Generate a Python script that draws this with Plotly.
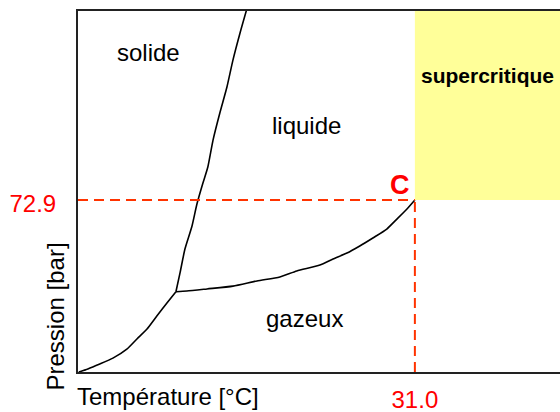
import plotly.graph_objects as go

# Schematic CO2 phase diagram (temperature in °C, pressure schematic scale)
T_TRIPLE, P_TRIPLE = -56.6, 34.0
T_CRIT, P_CRIT = 31.0, 72.9

# sublimation curve (solide / gazeux)
sub_T = [-92.2, -88.9, -84.5, -79.7, -74.6, -70.9, -67.2, -63.6, -59.9, -56.6]
sub_P = [0.0, 1.3, 3.4, 5.9, 9.7, 14.0, 18.2, 23.7, 29.2, 34.0]

# melting curve (solide / liquide)
melt_T = [-56.6, -55.1, -53.3, -50.7, -48.9, -46.7, -44.9, -43.0, -40.5, -37.9, -35.7, -33.1, -30.6]
melt_P = [34.0, 42.0, 52.1, 61.9, 71.2, 80.1, 86.9, 98.3, 109.8, 120.8, 132.2, 143.7, 153.9]

# vaporisation curve (liquide / gazeux)
vap_T = [-56.6, -52.6, -45.2, -35.7, -26.9, -18.5, -12.3, -3.8, 1.0, 6.1, 10.8, 15.6, 20.7, 24.4, 28.1, 31.0]
vap_P = [34.0, 34.3, 35.2, 36.4, 38.6, 40.3, 42.8, 45.3, 47.9, 50.4, 53.4, 56.8, 60.6, 64.8, 69.1, 72.9]

X_RANGE = [-92.5, 84.2]
Y_RANGE = [0, 153.0]

region_labels = ["solide", "liquide", "gazeux"]
region_T = [-66.5, -8.9, -9.3]
region_P = [135.6, 104.5, 22.5]

FONT = "Liberation Sans, Arial, sans-serif"

fig = go.Figure()

line_style = dict(color="black", width=1.6, shape="spline", smoothing=0.6)
fig.add_trace(go.Scatter(x=sub_T, y=sub_P, mode="lines", line=line_style, hoverinfo="skip"))
fig.add_trace(go.Scatter(x=melt_T, y=melt_P, mode="lines", line=line_style, hoverinfo="skip"))
fig.add_trace(go.Scatter(x=vap_T, y=vap_P, mode="lines", line=line_style, hoverinfo="skip"))

# supercritical region
fig.add_shape(type="rect", xref="x", yref="y", x0=T_CRIT, x1=X_RANGE[1], y0=P_CRIT, y1=Y_RANGE[1],
              fillcolor="#ffff99", line=dict(width=0), layer="below")

# dashed critical lines
dash_style = dict(color="#ff3300", width=2, dash="10px,6px")
fig.add_shape(type="line", xref="x", yref="y", x0=X_RANGE[0], x1=T_CRIT, y0=P_CRIT, y1=P_CRIT, line=dash_style)
fig.add_shape(type="line", xref="x", yref="y", x0=T_CRIT, x1=T_CRIT, y0=0, y1=P_CRIT, line=dash_style)

for lab, tx, py in zip(region_labels, region_T, region_P):
    fig.add_annotation(x=tx, y=py, text=lab, showarrow=False,
                       font=dict(family=FONT, size=24, color="black"))

fig.add_annotation(x=57.6, y=125.7, text="<b>supercritique</b>", showarrow=False,
                   font=dict(family=FONT, size=21, color="black"))

fig.add_annotation(x=T_CRIT, y=P_CRIT, text="<b>C</b>", showarrow=False,
                   xanchor="right", yanchor="bottom", xshift=-3, yshift=-2,
                   font=dict(family=FONT, size=27, color="#ff0000"))

# axis titles
fig.add_annotation(xref="paper", yref="paper", x=0, y=0, text="Température [°C]",
                   showarrow=False, xanchor="left", yanchor="top", yshift=-9, xshift=-3,
                   font=dict(family=FONT, size=24, color="black"))
fig.add_annotation(xref="paper", yref="paper", x=0, y=0, text="Pression [bar]",
                   showarrow=False, textangle=-90, xanchor="right", yanchor="bottom",
                   xshift=-8, yshift=-20,
                   font=dict(family=FONT, size=24, color="black"))

fig.update_layout(
    width=560, height=412,
    margin=dict(l=78, r=0, t=11, b=40),
    paper_bgcolor="white", plot_bgcolor="white",
    showlegend=False,
    xaxis=dict(range=X_RANGE, showgrid=False, zeroline=False, automargin=False,
               showline=True, linecolor="#222", linewidth=2, mirror=True,
               tickvals=[T_CRIT], ticktext=["31.0"], ticks="",
               ticklabelstandoff=5,
               tickfont=dict(family=FONT, size=24, color="#ff0000")),
    yaxis=dict(range=Y_RANGE, showgrid=False, zeroline=False, automargin=False,
               showline=True, linecolor="#222", linewidth=2,
               tickvals=[P_CRIT], ticktext=["72.9"], ticks="",
               ticklabelstandoff=15, ticklabelshift=4,
               tickfont=dict(family=FONT, size=24, color="#ff0000")),
)

fig.write_html("out.html", config={"displayModeBar": False},
               post_script="document.body.style.margin='0';document.body.style.overflow='hidden';")
